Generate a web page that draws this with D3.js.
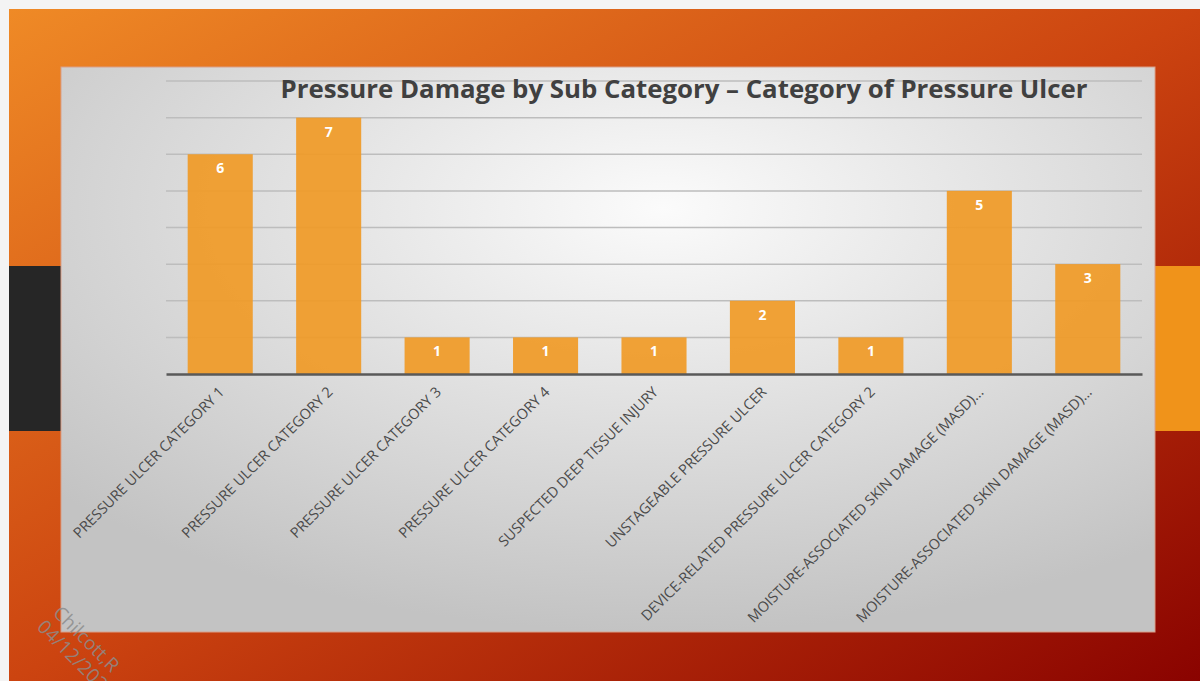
<!DOCTYPE html>
<html>
<head>
<meta charset="utf-8">
<title>Pressure Damage by Sub Category</title>
<script src="https://d3js.org/d3.v7.min.js"></script>
<style>
  body { margin: 0; background: #f4f4f4; }
  svg { display: block; }
</style>
</head>
<body>
<div id="chart"></div>
<script>
// data
const categories = [
    "PRESSURE ULCER CATEGORY 1",
    "PRESSURE ULCER CATEGORY 2",
    "PRESSURE ULCER CATEGORY 3",
    "PRESSURE ULCER CATEGORY 4",
    "SUSPECTED DEEP TISSUE INJURY",
    "UNSTAGEABLE PRESSURE ULCER",
    "DEVICE-RELATED PRESSURE ULCER CATEGORY 2",
    "MOISTURE-ASSOCIATED SKIN DAMAGE (MASD)...",
    "MOISTURE-ASSOCIATED SKIN DAMAGE (MASD)..."
];
const counts = [6, 7, 1, 1, 1, 2, 1, 5, 3];
const gridTicks = [0, 1, 2, 3, 4, 5, 6, 7, 8];

const width = 1200;
const height = 681;
const margin = { top: 81, right: 58, bottom: 307, left: 166 };

const svg = d3.select("#chart")
    .append("svg")
    .attr("width", width)
    .attr("height", height);

const defs = svg.append("defs");

// slide background
const slideGrad = defs.append("linearGradient")
    .attr("id", "slide")
    .attr("x1", "0%").attr("y1", "0%")
    .attr("x2", "100%").attr("y2", "100%");
slideGrad.append("stop").attr("offset", "0%").attr("stop-color", "#ef8a26");
slideGrad.append("stop").attr("offset", "50%").attr("stop-color", "#cc4410");
slideGrad.append("stop").attr("offset", "100%").attr("stop-color", "#8a0300");

// chart panel
const panelGrad = defs.append("radialGradient")
    .attr("id", "panel")
    .attr("cx", "55%").attr("cy", "25%").attr("r", "75%");
panelGrad.append("stop").attr("offset", "0%").attr("stop-color", "#fbfbfb");
panelGrad.append("stop").attr("offset", "100%").attr("stop-color", "#c3c3c3");

svg.append("rect")
    .attr("x", 9).attr("y", 9)
    .attr("width", width - 9).attr("height", height - 9)
    .attr("fill", "url(#slide)");

// side accents
svg.append("rect")
    .attr("x", 9).attr("y", 266).attr("width", 52).attr("height", 165)
    .attr("fill", "#262626");
svg.append("rect")
    .attr("x", 1155).attr("y", 266).attr("width", 45).attr("height", 165)
    .attr("fill", "#f0931a");

svg.append("rect")
    .attr("x", 61).attr("y", 67)
    .attr("width", 1094).attr("height", 565)
    .attr("fill", "url(#panel)")
    .attr("stroke", "#d9a08a")
    .attr("stroke-width", 1);

const x = d3.scaleBand()
    .domain(d3.range(categories.length))
    .range([margin.left, width - margin.right])
    .paddingInner(0.4)
    .paddingOuter(0.2);

const y = d3.scaleLinear()
    .domain([0, 8])
    .range([height - margin.bottom, margin.top]);

// gridlines
svg.append("g")
    .selectAll("line")
    .data(gridTicks.slice(1))
    .join("line")
    .attr("x1", margin.left)
    .attr("x2", width - margin.right)
    .attr("y1", d => y(d))
    .attr("y2", d => y(d))
    .attr("stroke", "#bdbdbd")
    .attr("stroke-width", 1.5);

// bars
svg.append("g")
    .selectAll("rect")
    .data(counts)
    .join("rect")
    .attr("x", (d, i) => x(i))
    .attr("y", d => y(d))
    .attr("width", x.bandwidth())
    .attr("height", d => y(0) - y(d))
    .attr("fill", "#f09a26")
    .attr("fill-opacity", 0.92);

// value labels
svg.append("g")
    .selectAll("text")
    .data(counts)
    .join("text")
    .attr("x", (d, i) => x(i) + x.bandwidth() / 2)
    .attr("y", d => y(d) + 19)
    .attr("text-anchor", "middle")
    .attr("fill", "#ffffff")
    .style("font-family", "'Open Sans', 'DejaVu Sans', sans-serif")
    .style("font-weight", "bold")
    .style("font-size", "14px")
    .text(d => d);

// x axis
const xAxis = svg.append("g")
    .attr("transform", `translate(0,${y(0)})`)
    .call(d3.axisBottom(x).tickSize(0).tickFormat(i => categories[i]));

xAxis.select(".domain")
    .attr("stroke", "#595959")
    .attr("stroke-width", 2.5);

xAxis.selectAll("text")
    .attr("fill", "#4a4a4a")
    .style("font-family", "'Open Sans', 'DejaVu Sans', sans-serif")
    .style("font-size", "14.5px")
    .attr("text-anchor", "end")
    .attr("dy", null)
    .attr("y", 0)
    .attr("transform", "translate(5,19) rotate(-45)");

// title
svg.append("text")
    .attr("x", 684)
    .attr("y", 98)
    .attr("text-anchor", "middle")
    .attr("fill", "#404040")
    .style("font-family", "'Open Sans', 'DejaVu Sans', sans-serif")
    .style("font-weight", "bold")
    .style("font-size", "25.8px")
    .text("Pressure Damage by Sub Category – Category of Pressure Ulcer");

// watermark
const wm = svg.append("g")
    .attr("fill", "#8c8c8c")
    .attr("fill-opacity", 0.85)
    .style("font-family", "'Open Sans', 'DejaVu Sans', sans-serif")
    .style("font-size", "19px");
wm.append("text")
    .attr("transform", "translate(52,614) rotate(45)")
    .text("Chilcott,R");
wm.append("text")
    .attr("transform", "translate(36,628) rotate(45)")
    .text("04/12/2023");
</script>
</body>
</html>
